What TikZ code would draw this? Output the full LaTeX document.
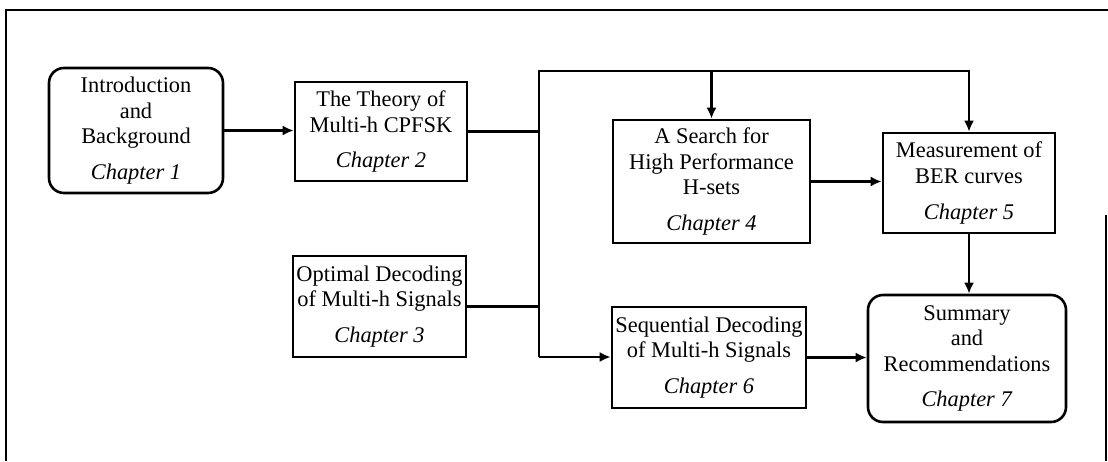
\documentclass[tikz,border=0pt]{standalone}
\usepackage{fontspec}
\setmainfont{Liberation Serif}
\usetikzlibrary{arrows.meta}
\begin{document}
\begin{tikzpicture}[x=0.5pt,y=-0.5pt,
  chap/.style={draw, line width=1.3pt, align=center, inner sep=0pt,
    font=\fontsize{11.2}{12.8}\selectfont},
  sq/.style={chap},
  rnd/.style={chap, rounded corners=7.5pt},
  link/.style={line width=1.2pt},
  arr/.style={link, -{Latex[length=5.5pt,width=5pt]}},
  frame/.style={line width=1.1pt}]
\useasboundingbox (0,0) rectangle (1108,461);

% outer frame
\draw[frame] (6,461) -- (6,10) -- (1108,10);
\draw[frame] (1106,215) -- (1106,461);

% chapters
\node[rnd, minimum width=87pt, minimum height=62.5pt] (ch1) at (136,130.5)
  {Introduction\\and\\Background\\[5pt]\textit{Chapter 1}};
\node[sq, minimum width=86pt, minimum height=49.5pt] (ch2) at (381,131.5)
  {The Theory of\\Multi-h CPFSK\\[5pt]\textit{Chapter 2}};
\node[sq, minimum width=86.5pt, minimum height=50.5pt] (ch3) at (379.5,306.5)
  {Optimal Decoding\\of Multi-h Signals\\[5pt]\textit{Chapter 3}};
\node[sq, minimum width=98.5pt, minimum height=61.5pt] (ch4) at (711.5,181.5)
  {A Search for\\High Performance\\H-sets\\[5pt]\textit{Chapter 4}};
\node[sq, minimum width=86pt, minimum height=50pt] (ch5) at (969,183)
  {Measurement of\\BER curves\\[5pt]\textit{Chapter 5}};
\node[sq, minimum width=97pt, minimum height=50.5pt] (ch6) at (709,357.5)
  {Sequential Decoding\\of Multi-h Signals\\[5pt]\textit{Chapter 6}};
\node[rnd, minimum width=99pt, minimum height=63.5pt] (ch7) at (967,358.5)
  {Summary\\and\\Recommendations\\[5pt]\textit{Chapter 7}};

% distribution bus
\coordinate (bt) at (539,71);
\coordinate (bb) at (539,357);

% connectors
\draw[arr] (ch1.east) -- (ch1.east -| ch2.west);
\draw[link] (ch2.east) -- (ch2.east -| bt);
\draw[link] (ch3.east) -- (ch3.east -| bt);
\draw[arr] (bb) -- (bt) -- (bt -| ch5.north) -- (ch5.north);
\draw[arr] (bt -| ch4.north) -- (ch4.north);
\draw[arr] (bb) -- (bb -| ch6.west);
\draw[arr] (ch4.east) -- (ch4.east -| ch5.west);
\draw[arr] (ch5.south) -- (ch5.south |- ch7.north);
\draw[arr] (ch6.east) -- (ch6.east -| ch7.west);
\end{tikzpicture}
\end{document}
